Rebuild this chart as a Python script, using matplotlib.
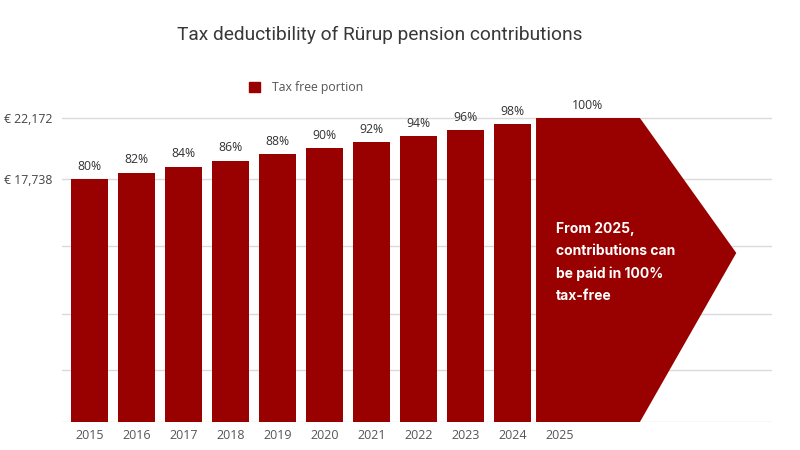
import matplotlib
matplotlib.use("Agg")
import matplotlib.pyplot as plt
from matplotlib.patches import Polygon, Patch
from matplotlib.font_manager import FontProperties

years = ["2015", "2016", "2017", "2018", "2019", "2020", "2021", "2022", "2023", "2024", "2025"]
percents = [80, 82, 84, 86, 88, 90, 92, 94, 96, 98, 100]
max_amount = 22172
labeled_ticks = [17738, 22172]
tick_labels = ["€ 17,738", "€ 22,172"]
unlabeled_ticks = [0, 3793, 7877, 12837]
legend_label = "Tax free portion"
title = "Tax deductibility of Rürup pension contributions"
note = "From 2025,\ncontributions can\nbe paid in 100%\ntax-free"

RED = "#990000"


def osans(size):
    return FontProperties(family="Open Sans", stretch="normal", weight="normal", size=size)


values = [p / 100 * max_amount for p in percents]

fig = plt.figure(figsize=(8, 4.5), dpi=100)
ax = fig.add_axes([62 / 800, 1 - 422 / 450, (772 - 62) / 800, (422 - 100) / 450])
ax.set_xlim(-0.585, 14.52)
ax.set_ylim(0, max_amount * 322 / 304)

for t in unlabeled_ticks + labeled_ticks:
    ax.axhline(t, color="#dadada", lw=1, zorder=0)

xs = list(range(len(years)))
ax.bar(xs[:-1], values[:-1], width=0.79, color=RED, zorder=2)

# 2025 arrow-shaped bar
top = values[-1]
x0 = xs[-1] - 0.5
poly = Polygon([(x0, 0), (x0, top), (x0 + 2.21, top), (x0 + 4.26, top * 0.556), (x0 + 2.21, 0)],
               closed=True, color=RED, zorder=2, lw=0)
ax.add_patch(poly)

for i, (x, v, p) in enumerate(zip(xs, values, percents)):
    xc = x if i < len(xs) - 1 else x0 + 1.1
    ax.annotate(f"{p}%", (xc, v), xytext=(0, 4.5), textcoords="offset points",
                ha="center", va="bottom", color="#333333", fontproperties=osans(8.8))

ax.text(x0 + 0.43, top * 0.657, note, ha="left", va="top", color="white",
        fontsize=10, fontweight="bold", family="Inter", linespacing=1.72, zorder=3)

ax.set_xticks(xs)
ax.set_xticklabels(years, color="#555555", fontproperties=osans(9))
ax.set_yticks(labeled_ticks)
ax.set_yticklabels(tick_labels, color="#444444", fontproperties=osans(8.8))
ax.tick_params(length=0, pad=5)
ax.tick_params(axis="y", pad=7)
for s in ax.spines.values():
    s.set_visible(False)

fig.text(380 / 800, 1 - 35 / 450, title, ha="center", va="center", fontsize=13.8,
         color="#383838", family="Roboto")

fig.legend(handles=[Patch(color=RED, label=legend_label)], loc="center left",
           bbox_to_anchor=(249 / 800, 1 - 88 / 450), frameon=False,
           handlelength=0.9, handleheight=0.9, borderpad=0, borderaxespad=0,
           handletextpad=1.0, prop=osans(8.8), labelcolor="#555555")

fig.savefig("out.png", dpi=100)
